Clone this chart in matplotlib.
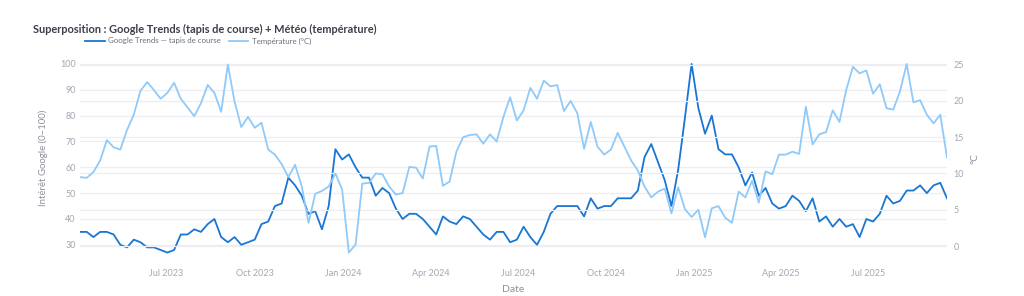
import numpy as np
import pandas as pd
import matplotlib
matplotlib.use("Agg")
import matplotlib.pyplot as plt
import matplotlib.dates as mdates

plt.rcParams['font.family'] = ['Lato', 'DejaVu Sans']

# weekly points (Sundays)
dates = pd.date_range('2023-04-02', periods=130, freq='W-SUN')

google = [35, 35, 33, 35, 35, 34, 30, 29, 32, 31,
          29, 29, 28, 27, 28, 34, 34, 36, 35, 38,
          40, 33, 31, 33, 30, 31, 32, 38, 39, 45,
          46, 56, 53, 49, 42, 43, 36, 45, 67, 63,
          65, 60, 56, 56, 49, 52, 50, 44, 40, 42,
          42, 40, 37, 34, 41, 39, 38, 41, 40, 37,
          34, 32, 35, 35, 31, 32, 37, 33, 30, 35,
          42, 45, 45, 45, 45, 41, 48, 44, 45, 45,
          48, 48, 48, 51, 64, 69, 62, 55, 45, 59,
          79, 100, 83, 73, 80, 67, 65, 65, 60, 53,
          58, 49, 52, 46, 44, 45, 49, 47, 43, 48,
          39, 41, 37, 40, 37, 38, 33, 40, 39, 42,
          49, 46, 47, 51, 51, 53, 50, 53, 54, 48]

temperature = [9.5, 9.4, 10.2, 11.8, 14.6, 13.6, 13.3, 16.0, 18.1, 21.4,
               22.6, 21.5, 20.3, 21.1, 22.5, 20.3, 19.1, 17.9, 19.7, 22.2,
               21.1, 18.5, 25.0, 19.9, 16.4, 17.8, 16.3, 17.0, 13.3, 12.6,
               11.3, 9.5, 11.2, 8.2, 3.2, 7.2, 7.6, 8.2, 10.0, 7.8,
               -0.9, 0.2, 8.6, 8.7, 10.0, 9.9, 8.2, 7.1, 7.3, 10.9,
               10.8, 9.3, 13.7, 13.8, 8.3, 8.9, 13.0, 15.0, 15.3, 15.4,
               14.1, 15.4, 14.4, 17.8, 20.5, 17.3, 18.7, 21.8, 20.3, 22.8,
               22.0, 22.2, 18.6, 20.0, 18.3, 13.4, 17.1, 13.7, 12.6, 13.3,
               15.6, 13.7, 11.8, 10.4, 8.2, 6.7, 7.5, 7.9, 4.5, 8.1,
               5.1, 4.0, 5.0, 1.2, 5.2, 5.5, 3.9, 3.2, 7.5, 6.7,
               9.0, 6.0, 10.3, 9.9, 12.6, 12.6, 13.0, 12.7, 19.2, 14.0,
               15.4, 15.7, 18.7, 17.1, 21.5, 24.7, 23.8, 24.2, 21.0, 22.3,
               19.0, 18.8, 21.3, 25.1, 19.8, 20.1, 18.1, 16.9, 18.1, 12.2]

c_google = '#1976D2'
c_temp = '#90CAF9'
c_tick = '#a3a7b2'
c_label = '#8c909b'
c_grid = '#eceef4'

fig = plt.figure(figsize=(10.24, 2.96), dpi=100)
ax = fig.add_axes([80/1024, 1 - 262/296, 867/1024, 207.5/296])
ax2 = ax.twinx()

l1, = ax.plot(dates, google, color=c_google, lw=1.3, label='Google Trends — tapis de course')
l2, = ax2.plot(dates, temperature, color=c_temp, lw=1.3, label='Température (°C)')

ax.margins(x=0, y=0.05)
ax2.margins(x=0, y=0.05)
ax.set_yticks(range(30, 101, 10))
ax2.set_yticks(range(0, 26, 5))

ax.xaxis.set_major_locator(mdates.MonthLocator(bymonth=[1, 4, 7, 10]))
ax.xaxis.set_major_formatter(mdates.DateFormatter('%b %Y'))

for a in (ax, ax2):
    for s in a.spines.values():
        s.set_visible(False)
    a.set_axisbelow(True)
    a.grid(axis='y', color=c_grid, lw=0.9)
    a.grid(axis='x', visible=False)
    a.tick_params(length=0, labelsize=6.5, labelcolor=c_tick)
ax.tick_params(axis='y', pad=3)
ax2.tick_params(axis='y', pad=4.5)
ax.tick_params(axis='x', pad=5)

ax.set_ylabel('Intérêt Google (0–100)', fontsize=6.9, color=c_label, labelpad=9)
ax2.set_ylabel('°C', fontsize=7.2, color=c_label, labelpad=5)
ax.set_xlabel('Date', fontsize=7.5, color=c_label, labelpad=5)

fig.text(33/1024, 1 - 29/296, 'Superposition : Google Trends (tapis de course) + Météo (température)',
         fontsize=7.9, fontweight='bold', color='#3b3f4a', va='center', ha='left')

fig.legend(handles=[l1, l2], loc='center left', bbox_to_anchor=(85/1024, 1 - 41/296),
           ncol=2, frameon=False, fontsize=5.7, labelcolor='#6b707b',
           handlelength=2.5, handletextpad=0.4, columnspacing=1.0, borderaxespad=0, borderpad=0)

fig.savefig('out.png', dpi=100, facecolor='white')
